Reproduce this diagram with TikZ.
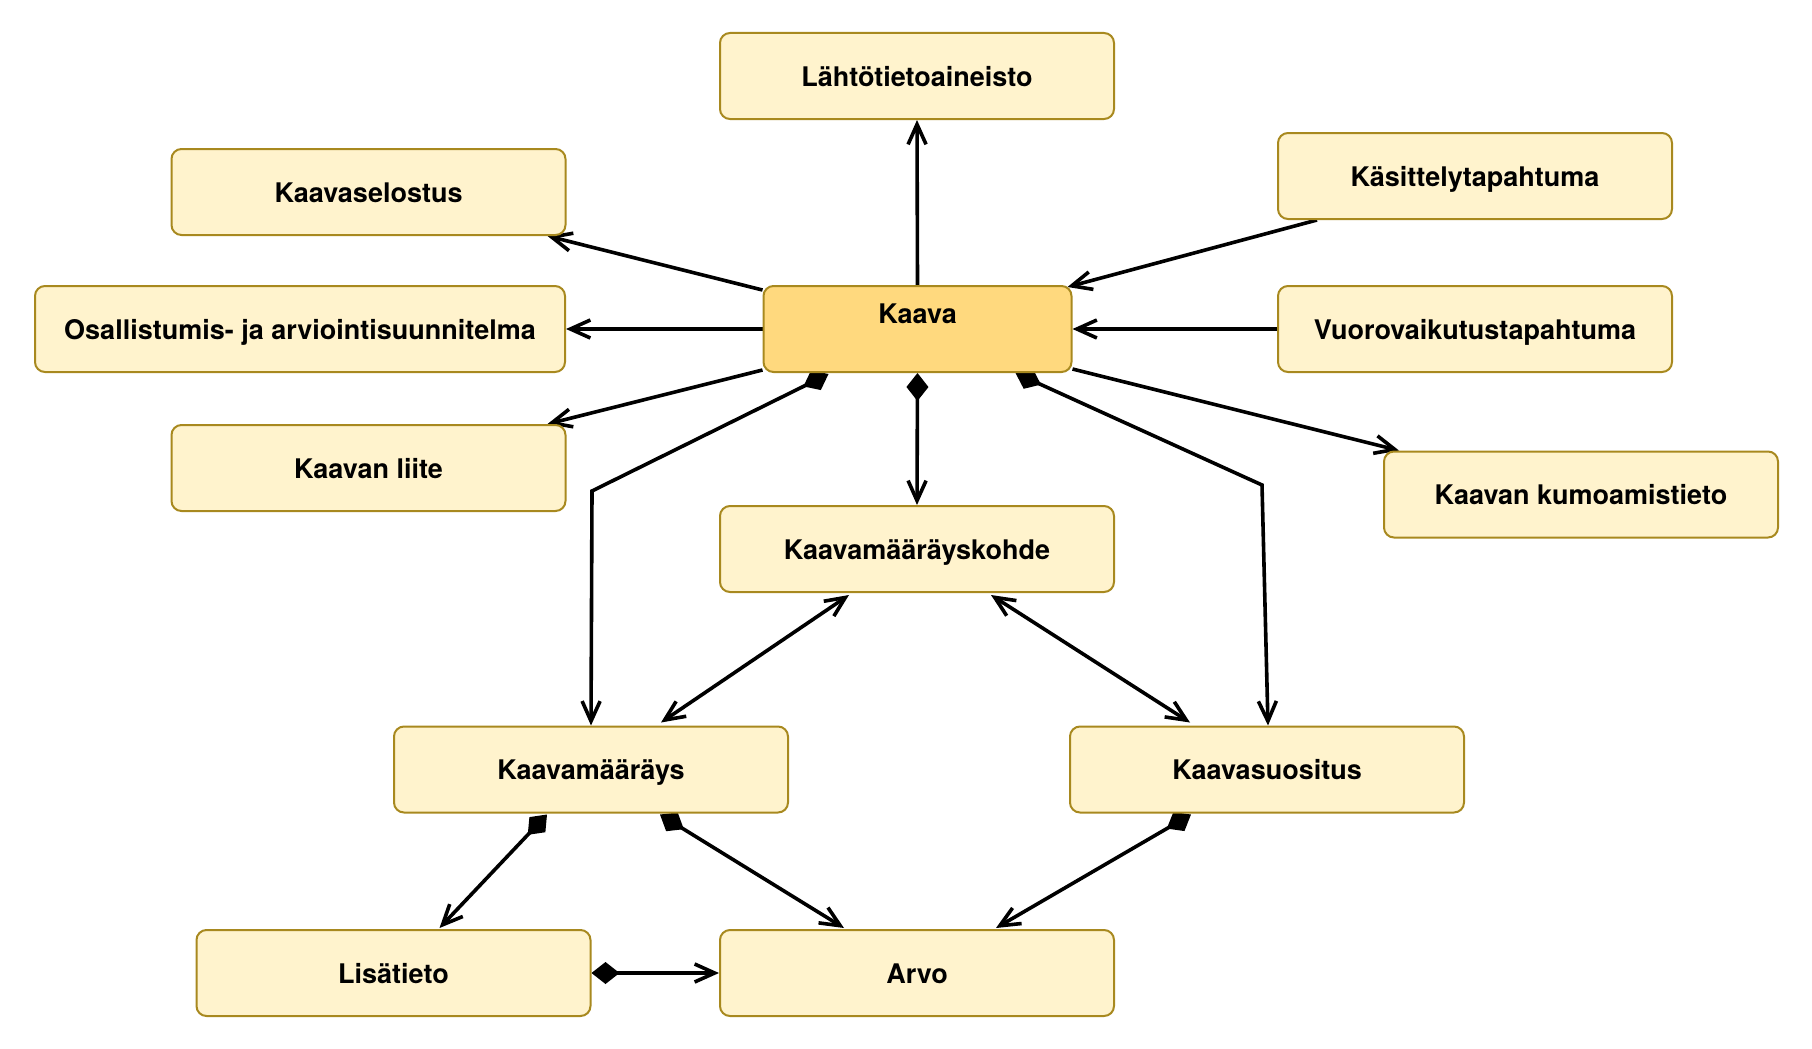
\documentclass[tikz,border=0pt]{standalone}
\usepackage{fontspec}
\setmainfont{TeX Gyre Heros}
\usetikzlibrary{arrows.meta,calc}
\definecolor{boxfill}{HTML}{FFF3CD}
\definecolor{boxline}{HTML}{A8891F}
\definecolor{mainfill}{HTML}{FFD97E}
\pgfdeclarelayer{bg}
\pgfsetlayers{bg,main}
\begin{document}
\begin{tikzpicture}[x=1pt,y=-1pt,
  txt/.style={font=\fontsize{27}{31}\selectfont\bfseries,text height=21pt,text depth=1pt},
  ent/.style={txt,draw=boxline,fill=boxfill,line width=2pt,rounded corners=10pt,
    minimum width=394pt,minimum height=86pt,inner sep=0pt},
  conn/.style={line width=3.6pt,black},
  arr/.style={conn,-{Straight Barb[length=20pt,width=18pt]}},
  darr/.style={conn,{Straight Barb[length=20pt,width=18pt]}-{Straight Barb[length=20pt,width=18pt]}},
  dia/.style={conn,{Diamond[length=28pt,width=22pt]}-{Straight Barb[length=20pt,width=18pt]}}]
\useasboundingbox (0,0) rectangle (1812,1049);

\node[ent] (lahto) at (917,76) {Lähtötietoaineisto};
\node[ent] (selostus) at (368.5,192) {Kaavaselostus};
\node[ent] (kasittely) at (1475,176) {Käsittelytapahtuma};
\node[ent,minimum width=530pt] (osall) at (300,329) {Osallistumis- ja arviointisuunnitelma};
\node[ent,fill=mainfill,minimum width=308pt] (kaava) at (917.5,329) {};
\node[txt] (kaavatxt) at ($(kaava.north)+(0,28)$) {Kaava};
\node[ent] (vuoro) at (1475,329) {Vuorovaikutustapahtuma};
\node[ent] (liite) at (368.5,468) {Kaavan liite};
\node[ent] (kumo) at (1581,494.5) {Kaavan kumoamistieto};
\node[ent] (kohde) at (917,549) {Kaavamääräyskohde};
\node[ent] (maarays) at (591,769.5) {Kaavamääräys};
\node[ent] (suositus) at (1267,769.5) {Kaavasuositus};
\node[ent] (lisa) at (393.5,973) {Lisätieto};
\node[ent] (arvo) at (917,973) {Arvo};

\begin{pgfonlayer}{bg}
\draw[arr] (kaava.north) -- (lahto.south);
\draw[arr] ($(kaava.north west)+(0,5)$) -- ($(selostus.south east)+(-19,0)$);
\draw[arr] (kaava.west) -- (osall.east);
\draw[arr] ($(kaava.south west)+(0,-3)$) -- ($(liite.north east)+(-19,0)$);
\draw[arr] ($(kasittely.south west)+(40,0)$) -- ($(kaava.north east)+(-5,2)$);
\draw[arr] (vuoro.west) -- (kaava.east);
\draw[arr] ($(kaava.south east)+(0,-4)$) -- ($(kumo.north west)+(16,0)$);
\draw[dia] (kaava.south) -- (kohde.north);
\coordinate (b1) at (592,491);
\coordinate (b2) at (1262,485);
\draw[dia] ($(kaava.south west)+(66,1)$) -- (b1) -- (maarays.north);
\draw[dia] ($(kaava.south east)+(-57,0)$) -- (b2) -- ($(suositus.north)+(1,0)$);
\draw[darr] ($(kohde.south west)+(130,2)$) -- ($(maarays.north east)+(-128,-3)$);
\draw[darr] ($(kohde.south east)+(-124,2)$) -- ($(suositus.north west)+(121,-3)$);
\draw[dia] ($(maarays.south west)+(154,1)$) -- ($(lisa.north west)+(244,-1)$);
\draw[dia] ($(maarays.south east)+(-129,1)$) -- ($(arvo.north west)+(125,-1)$);
\draw[dia] ($(suositus.south west)+(122,1)$) -- ($(arvo.north east)+(-119,-1)$);
\draw[dia] (lisa.east) -- (arvo.west);
\end{pgfonlayer}
\end{tikzpicture}
\end{document}
